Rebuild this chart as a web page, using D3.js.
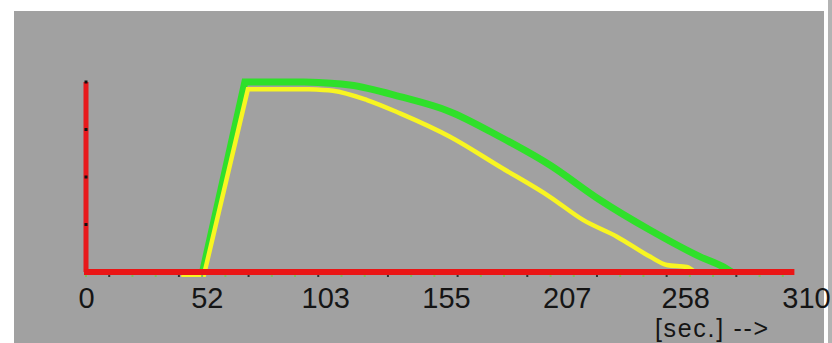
<!DOCTYPE html>
<html>
<head>
<meta charset="utf-8">
<script src="https://cdn.jsdelivr.net/npm/d3@7"></script>
<style>
  body { margin: 0; background: #fff; }
  svg { display: block; }
  .tick text { font-family: "Liberation Sans", Arial, sans-serif; font-size: 29px; fill: #151515; }
</style>
</head>
<body>
<div id="chart"></div>
<script>
var svgWidth = 832;
var svgHeight = 343;

// tick labels on the time axis (seconds)
var xTicks = [0, 52, 103, 155, 207, 258, 310];
var yTicks = [25, 50, 75, 100];

// green curve (time, value in %)
var greenT = [50.2, 68.4, 94, 113.6, 135.2, 156.7, 178.2, 199.7, 221.3, 242.8, 264.3, 274.2, 278];
var greenV = [0, 100, 100, 98.4, 92.3, 84.4, 71.2, 56.3, 37.9, 22.1, 8.1, 2.8, 0];

// yellow curve
var yellowT = [41, 50.8, 69.7, 96, 106.3, 121, 135.2, 156.7, 178.2, 199.7, 214, 228.6, 242.8, 250.1, 258.7, 262];
var yellowV = [-1.5, -1.5, 96.2, 96.2, 95.4, 90.5, 83.5, 71.2, 55.4, 39.6, 27.4, 18.6, 8.1, 3.7, 2.6, 0];

var svg = d3.select("#chart")
  .append("svg")
  .attr("width", svgWidth)
  .attr("height", svgHeight);

// gray panel + white strip on the right
svg.append("rect")
  .attr("x", 14).attr("y", 11)
  .attr("width", 810).attr("height", svgHeight - 11)
  .attr("fill", "#a1a1a1");
svg.append("rect")
  .attr("x", 828).attr("y", 0)
  .attr("width", 4).attr("height", svgHeight)
  .attr("fill", "#b3b3b3");

var xScale = d3.scaleLinear().domain([0, 310]).range([86, 806]);
var yScale = d3.scaleLinear().domain([0, 100]).range([272, 82]);

var straight = d3.line()
  .x(d => xScale(d[0]))
  .y(d => yScale(d[1]));

var smooth = d3.line()
  .x(d => xScale(d[0]))
  .y(d => yScale(d[1]))
  .curve(d3.curveMonotoneX);

// straight rise and plateau, then a smooth fall
function curvePath(pts, k) {
  var rest = smooth(pts.slice(k));
  return straight(pts.slice(0, k + 1)) + rest.substring(rest.search(/[CL]/));
}

var greenData = greenT.map((t, i) => [t, greenV[i]]);
var yellowData = yellowT.map((t, i) => [t, yellowV[i]]);

svg.append("path")
  .attr("d", curvePath(greenData, 2))
  .attr("fill", "none")
  .attr("stroke", "#2fe02a")
  .attr("stroke-width", 7)
  .attr("stroke-linejoin", "miter");

svg.append("path")
  .attr("d", curvePath(yellowData, 3))
  .attr("fill", "none")
  .attr("stroke", "#f8f522")
  .attr("stroke-width", 4.5)
  .attr("stroke-linejoin", "miter");

// red axes
svg.append("line")
  .attr("x1", xScale(0)).attr("x2", xScale(0))
  .attr("y1", yScale(100)).attr("y2", yScale(0))
  .attr("stroke", "#e8191c").attr("stroke-width", 5);

svg.append("line")
  .attr("x1", xScale(0) - 2).attr("x2", xScale(305))
  .attr("y1", yScale(0)).attr("y2", yScale(0))
  .attr("stroke", "#ea1515").attr("stroke-width", 6);

// small tick dots under the time axis
var minor = d3.range(0, 306, 10);
svg.append("g").selectAll("rect")
  .data(minor)
  .enter()
  .append("rect")
  .attr("x", d => xScale(d) - 1)
  .attr("y", yScale(0) + 3)
  .attr("width", 2).attr("height", 2)
  .attr("fill", (d, i) => i % 3 === 1 ? "#333" : "#7dc05a");

// black dots on the value axis
svg.append("g").selectAll("rect")
  .data(yTicks)
  .enter()
  .append("rect")
  .attr("x", xScale(0) - 1.5)
  .attr("y", d => yScale(d) - 1.5)
  .attr("width", 3).attr("height", 3)
  .attr("fill", "#111");

// tick labels
var bottomAxis = d3.axisBottom(xScale)
  .tickValues(xTicks)
  .tickSize(0)
  .tickPadding(0)
  .tickFormat(d3.format("d"));

var xAxis = svg.append("g")
  .attr("transform", "translate(0, 287)")
  .call(bottomAxis);
xAxis.select(".domain").remove();
xAxis.selectAll("text").attr("dy", "0.72em");

// unit label, kept just under the tick labels
svg.append("text")
  .attr("x", 655)
  .attr("y", 337)
  .attr("font-family", "Liberation Sans, Arial, sans-serif")
  .attr("font-size", 25)
  .attr("textLength", 113)
  .attr("lengthAdjust", "spacing")
  .attr("fill", "#151515")
  .text("[sec.] -->");
</script>
</body>
</html>
